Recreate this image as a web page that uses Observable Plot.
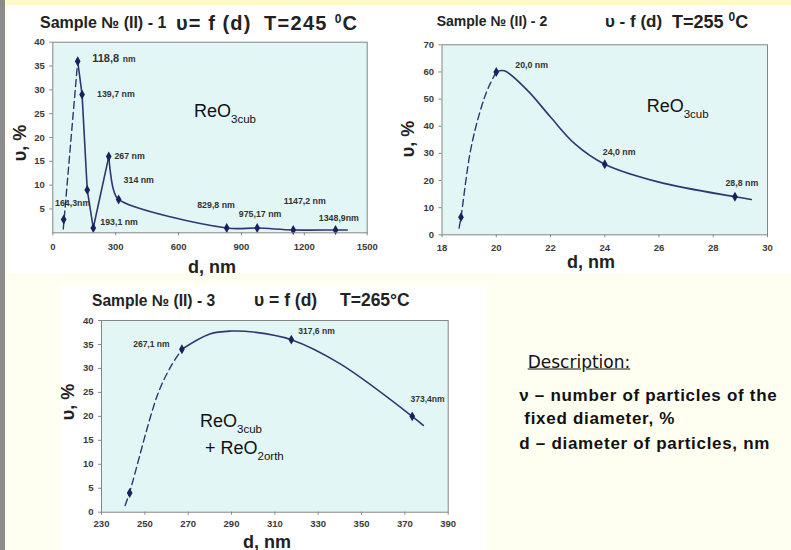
<!DOCTYPE html>
<html><head><meta charset="utf-8">
<script src="https://cdn.jsdelivr.net/npm/d3@7"></script>
<script src="https://cdn.jsdelivr.net/npm/@observablehq/plot@0.6"></script>
<style>
html,body{margin:0;padding:0;}
body{width:791px;height:550px;position:relative;overflow:hidden;background:#fffff1;font-family:"Liberation Sans",Arial,sans-serif;color:#222;}
.abs{position:absolute;white-space:nowrap;line-height:1;}
.plot{position:absolute;}
</style></head><body>
<script>
// ---------------- DATA ----------------
// Sample (II)-1, T=245 C
const d1 = [52, 118.8, 139.7, 164.3, 193.1, 267, 314, 829.8, 975.17, 1147.2, 1348.9];
const v1 = [2.8, 36, 29, 9, 1, 16, 7, 1, 1, 0.6, 0.6];
const lab1 = ["", "118,8", "139,7 nm", "164,3nm", "193,1 nm", "267 nm", "314 nm", "829,8 nm", "975,17 nm", "1147,2 nm", "1348,9nm"];
const dash1D = [50, 118.8];
const dash1V = [0.8, 36];
const solid1aD = [118.8, 139.7, 164.3, 193.1, 267];
const solid1aV = [36, 29, 9, 1, 16];
const solid1bD = [267, 290, 314, 829.8, 975.17, 1147.2, 1348.9, 1405];
const solid1bV = [16, 9, 7, 1, 1, 0.6, 0.6, 0.6];
const xTicks1 = [0, 300, 600, 900, 1200, 1500];
const yTicks1 = [5, 10, 15, 20, 25, 30, 35, 40];

// Sample (II)-2, T=255 C
const d2 = [18.7, 20, 24, 28.8];
const v2 = [6.5, 60, 26, 14];
const lab2 = ["", "20,0 nm", "24,0 nm", "28,8 nm"];
const dash2D = [18.63, 18.7, 19.05, 19.42, 19.7, 20];
const dash2V = [2.5, 6.5, 31, 46, 54, 60];
const solid2D = [20, 20.3, 21.15, 22, 22.9, 24, 26, 28.8, 29.4];
const solid2V = [60, 60.4, 53.2, 43.4, 33.5, 26, 19.4, 14, 13];
const xTicks2 = [18, 20, 22, 24, 26, 28, 30];
const yTicks2 = [0, 10, 20, 30, 40, 50, 60, 70];

// Sample (II)-3, T=265 C
const d3 = [243, 267.1, 317.6, 373.4];
const v3 = [4, 34, 36, 20];
const lab3 = ["", "267,1 nm", "317,6 nm", "373,4nm"];
const dash3D = [240.9, 243, 255.7, 261.5, 267.1];
const dash3V = [1.4, 4.2, 24.3, 30, 34];
const solid3D = [267.1, 280, 290, 300, 317.6, 340, 373.4, 378.5];
const solid3V = [34, 37.2, 37.8, 37.6, 36, 31, 20, 18.1];
const xTicks3 = [230, 250, 270, 290, 310, 330, 350, 370, 390];
const yTicks3 = [0, 5, 10, 15, 20, 25, 30, 35, 40];

// ---------------- STYLE / LAYOUT ----------------
const PAL = {plotBg: "#e2f6f6", frame: "#858585", line: "#30366f", dot: "#1b215e", text: "#333"};
const FONT = '"Liberation Sans", Arial, sans-serif';
// label offsets (px) from their point
const off1 = [null, [14.5, -2.8], [15, 0], [-32.2, 13.1], [7, -6], [5.7, 0], [5, -19], [-29.5, -22.5], [-18.4, -13.5], [-9.5, -28.4], [-16.7, -12.1]];
const off2 = [null, [19, -6.5], [-2, -12], [-9.5, -13.6]];
const off3 = [null, [-48.7, -4.5], [7, -8], [-1.7, -17]];

const rows = (D, V) => D.map((d, i) => ({d, v: V[i]}));
const fmt = t => String(t);

function makeChart(c) {
  const pts = c.d.map((d, i) => ({d, v: c.v[i], label: c.lab[i]}));
  const labelMarks = [];
  pts.forEach((p, i) => {
    if (!p.label) return;
    const [dx, dy] = c.off[i];
    const isBig = c.big && c.big[i];
    labelMarks.push(Plot.text([p], {x: "d", y: "v", text: "label", dx, dy, textAnchor: "start",
      fontSize: isBig ? 11 : c.lfs, fontWeight: "bold", fill: PAL.text}));
    if (isBig) {
      labelMarks.push(Plot.text([p], {x: "d", y: "v", text: () => "nm", dx: dx + 30.5, dy: dy + 0.5, textAnchor: "start",
        fontSize: 8.5, fontWeight: "bold", fill: PAL.text}));
    }
  });
  const svg = Plot.plot({
    width: c.w, height: c.h,
    marginLeft: c.ml, marginRight: c.mr, marginTop: c.mt, marginBottom: c.mb,
    x: {domain: c.xd}, y: {domain: c.yd},
    style: {background: "transparent", fontFamily: FONT, color: "#3a3a3a", overflow: "visible"},
    marks: [
      Plot.frame({fill: PAL.plotBg, stroke: "none"}),
      Plot.axisX({ticks: c.xt, tickFormat: fmt, tickSize: 3, tickPadding: c.xpad, fontSize: 9.5, fontWeight: "bold", label: null, stroke: "#888"}),
      Plot.axisY({ticks: c.yt, tickFormat: fmt, tickSize: 3, tickPadding: 5, fontSize: 9.5, fontWeight: "bold", label: null, stroke: "#888"}),
      ...c.dashes.map(([D, V]) => Plot.line(rows(D, V), {x: "d", y: "v", curve: "catmull-rom", stroke: PAL.line, strokeWidth: 1.4, strokeDasharray: "7,4"})),
      ...c.solids.map(([D, V, curve]) => Plot.line(rows(D, V), {x: "d", y: "v", curve, stroke: PAL.line, strokeWidth: 1.6})),
      Plot.dot(pts, {x: "d", y: "v", symbol: "diamond", r: 3, fill: PAL.dot}),
      ...labelMarks,
      Plot.frame({stroke: PAL.frame, strokeWidth: 1})
    ]
  });
  svg.classList.add("plot");
  svg.style.left = c.left + "px";
  svg.style.top = c.top + "px";
  document.body.appendChild(svg);
}

function rect(x, y, w, h, bg) {
  const e = document.createElement("div");
  e.className = "abs";
  Object.assign(e.style, {left: x + "px", top: y + "px", width: w + "px", height: h + "px", background: bg});
  document.body.appendChild(e);
}
function txt(x, cy, html, css = {}, mode = "left") {
  const e = document.createElement("div");
  e.className = "abs";
  e.innerHTML = html;
  const tf = mode === "rot" ? "translate(-50%,-50%) rotate(-90deg)" : mode === "center" ? "translate(-50%,-50%)" : "translateY(-50%)";
  Object.assign(e.style, {left: x + "px", top: cy + "px", transform: tf}, css);
  document.body.appendChild(e);
}

// background pieces
rect(0, 0, 791, 5, "#fff9cc");
rect(8, 5, 783, 268, "#ffffff");
rect(61, 285, 426, 265, "#ffffff");
rect(0, 0, 5, 550, "#8b8b8b");

makeChart({left: 0, top: 0, w: 395, h: 275, ml: 52.3, mr: 28.3, mt: 41.7, mb: 42.7,
  xd: [0, 1500], yd: [0, 40], xt: xTicks1, yt: yTicks1, xpad: 7,
  d: d1, v: v1, lab: lab1, off: off1, lfs: 8.8, big: [false, true],
  dashes: [[dash1D, dash1V]],
  solids: [[solid1aD, solid1aV, "linear"], [solid1bD, solid1bV, "catmull-rom"]]});

makeChart({left: 395, top: 0, w: 396, h: 275, ml: 46.5, mr: 24, mt: 44.3, mb: 40.7,
  xd: [18, 30], yd: [0, 70], xt: xTicks2, yt: yTicks2, xpad: 6,
  d: d2, v: v2, lab: lab2, off: off2, lfs: 8.8,
  dashes: [[dash2D, dash2V]],
  solids: [[solid2D, solid2V, "catmull-rom"]]});

makeChart({left: 0, top: 275, w: 490, h: 275, ml: 101, mr: 42.3, mt: 45, mb: 38.3,
  xd: [230, 390], yd: [0, 40], xt: xTicks3, yt: yTicks3, xpad: 5,
  d: d3, v: v3, lab: lab3, off: off3, lfs: 8.5,
  dashes: [[dash3D, dash3V]],
  solids: [[solid3D, solid3V, "catmull-rom"]]});

// titles
const T = (fs, ls) => ({fontSize: fs + "px", fontWeight: "bold", color: "#222", letterSpacing: (ls || 0) + "px"});
const sup0 = '<span style="font-size:12px;vertical-align:7px">0</span>';
txt(40, 23, "Sample № (II) - 1", T(16));
txt(176, 23, "υ= f (d)", T(20, 1.1));
txt(264, 23, "T=245 " + sup0 + "C", T(20, 1.3));
txt(436.7, 21, "Sample № (II) - 2", T(14));
txt(605, 21, "υ - f (d)", T(17));
txt(672, 21, "T=255 " + sup0 + "C", T(18));
txt(92, 301, "Sample № (II) - 3", T(15.6));
txt(254, 301, "υ = f (d)", T(17.5));
txt(340, 301, "T=265°C", T(17.5));

// axis titles
const axT = {fontSize: "18px", fontWeight: "bold", color: "#222"};
txt(20, 143, "υ, %", axT, "rot");
txt(408, 139, "υ, %", axT, "rot");
txt(68, 402, "υ, %", axT, "rot");
txt(212, 267, "d, nm", axT, "center");
txt(591, 262, "d, nm", axT, "center");
txt(267, 541.5, "d, nm", axT, "center");

// phase annotations
const reo = {fontSize: "18px", color: "#111"};
const sub = s => '<span style="font-size:11.5px;vertical-align:-6px">' + s + '</span>';
txt(194, 114, "ReO" + sub("3cub"), reo);
txt(646.7, 109, "ReO" + sub("3cub"), reo);
txt(200, 424, "ReO" + sub("3cub"), reo);
txt(205, 451, "+ ReO" + sub("2orth"), reo);

// description
const desc = {fontSize: "17px", fontWeight: "bold", color: "#111", letterSpacing: "0.7px"};
txt(527.7, 362.3, '<span style="text-decoration:underline">Description:</span>', {fontSize: "17px", color: "#111", fontFamily: '"DejaVu Sans", sans-serif'});
txt(519.3, 395, "ν – number of particles of the", desc);
txt(524.3, 418.3, "fixed diameter, %", desc);
txt(519.3, 442.7, "d – diameter of particles, nm", desc);
</script>
</body></html>
